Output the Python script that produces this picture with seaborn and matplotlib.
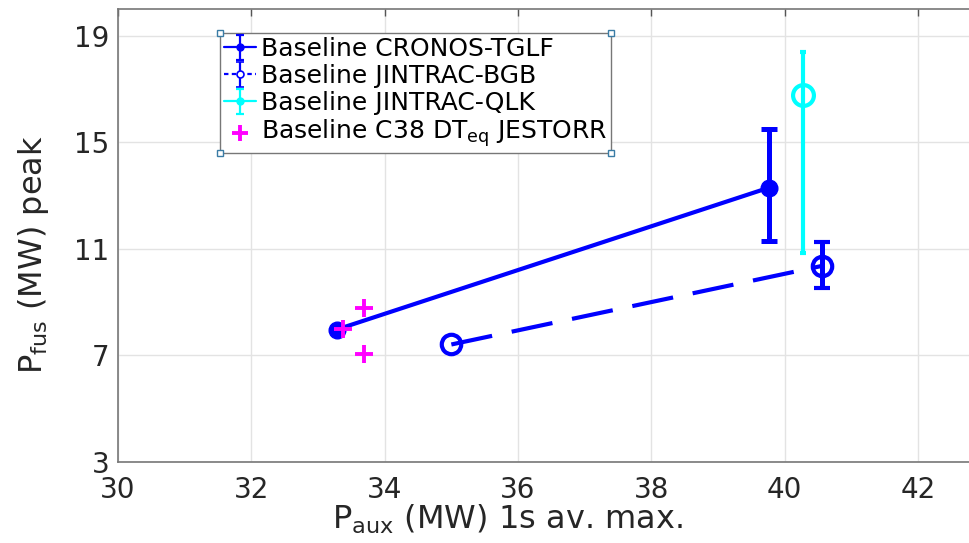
import numpy as np
import pandas as pd
import matplotlib
matplotlib.use("Agg")
import matplotlib.pyplot as plt
import seaborn as sns
from matplotlib.patches import Rectangle

# ---- data ----
cronos_x = [33.28, 39.77]
cronos_y = [7.97, 13.30]
cronos_lo = [np.nan, 11.30]
cronos_hi = [np.nan, 15.50]

bgb_x = [35.00, 40.56]
bgb_y = [7.41, 10.36]
bgb_lo = [np.nan, 9.54]
bgb_hi = [np.nan, 11.26]

qlk_x = [40.27]
qlk_y = [16.79]
qlk_lo = [10.85]
qlk_hi = [18.38]

jest_x = [33.69, 33.37, 33.69]
jest_y = [8.79, 7.98, 7.07]

labels = ["Baseline CRONOS-TGLF", "Baseline JINTRAC-BGB",
          "Baseline JINTRAC-QLK", "Baseline C38 DT$_{eq}$ JESTORR"]
xticks = [30, 32, 34, 36, 38, 40, 42]
yticks = [3, 7, 11, 15, 19]

sns.set_theme(style="whitegrid")
plt.rcParams["font.family"] = ["DejaVu Sans"]
plt.rcParams["mathtext.default"] = "regular"
txt = "#262626"
BLUE, CYAN, MAG = "#0000FF", "#00FFFF", "#FF00FF"

fig = plt.figure(figsize=(9.69, 5.43), dpi=100)
ax = fig.add_axes([118/969, 1-462/543, (984.7-118)/969, (462-9)/543])
ax.set_facecolor("white")

def yerr(y, lo, hi):
    y = np.asarray(y, float)
    return np.vstack([y - np.asarray(lo, float), np.asarray(hi, float) - y])

ax.errorbar(cronos_x, cronos_y, yerr=yerr(cronos_y, cronos_lo, cronos_hi),
            color=BLUE, lw=3, marker="o", ms=12, mfc=BLUE, mec=BLUE,
            elinewidth=3.6, capsize=6, capthick=3.6, zorder=3)
ax.errorbar(bgb_x, bgb_y, yerr=yerr(bgb_y, bgb_lo, bgb_hi),
            color=BLUE, lw=3, ls=(0, (10, 4.8)), marker="o", ms=14, mfc="none",
            mec=BLUE, mew=3, elinewidth=3.6, capsize=6, capthick=3.6, zorder=3)
ax.errorbar(qlk_x, qlk_y, yerr=yerr(qlk_y, qlk_lo, qlk_hi),
            color=CYAN, lw=3, marker="o", ms=15, mfc="none", mec=CYAN, mew=3,
            elinewidth=3, capsize=2.5, capthick=3, zorder=3)

df = pd.DataFrame({"x": jest_x, "y": jest_y})
sns.scatterplot(data=df, x="x", y="y", marker="+", s=180, color=MAG,
                linewidth=2.8, ax=ax, zorder=4, legend=False)

# legend proxies (small markers like the reference legend)
nan1 = [np.nan]
h1 = ax.errorbar(nan1, nan1, yerr=[[1], [1]], color=BLUE, lw=1.6, marker="o", ms=5,
                 mfc=BLUE, mec=BLUE, elinewidth=1.6, capsize=3, capthick=1.6)
h2 = ax.errorbar(nan1, nan1, yerr=[[1], [1]], color=BLUE, lw=1.6, ls=(0, (2, 1.5)),
                 marker="o", ms=5, mfc="white", mec=BLUE, mew=1.2,
                 elinewidth=1.6, capsize=3, capthick=1.6)
h3 = ax.errorbar(nan1, nan1, yerr=[[1], [1]], color=CYAN, lw=1.6, marker="o", ms=5,
                 mfc=CYAN, mec=CYAN, elinewidth=1.6, capsize=3, capthick=1.6)
h4 = ax.scatter(nan1, nan1, marker="+", s=140, color=MAG, linewidths=2.8)

ax.set_xlim(30, 43)
ax.set_ylim(3, 20)
ax.set_xticks(xticks)
ax.set_yticks(yticks)
ax.tick_params(direction="in", length=5, width=1, colors="#555555",
               labelcolor=txt, labelsize=20, top=True, right=True)
ax.tick_params(axis="x", pad=10)
ax.tick_params(axis="y", pad=6)
ax.grid(True, color="#e3e3e3", lw=1)
for s in ax.spines.values():
    s.set_color("#777777")
    s.set_linewidth(1.2)

ax.set_xlabel("P$_{aux}$ (MW) 1s av. max.", fontsize=23, color=txt)
ax.set_ylabel("P$_{fus}$ (MW) peak", fontsize=23, color=txt)
ax.xaxis.set_label_coords(0.449, -0.090)
ax.yaxis.set_label_coords(-0.077, 0.457)

leg = ax.legend([h1, h2, h3, h4], labels, loc="upper left",
                bbox_to_anchor=((220-118)/866.7, (462-33)/453),
                borderaxespad=0, fontsize=18, frameon=True, fancybox=False,
                edgecolor="#777777", framealpha=1, handlelength=1.3,
                handletextpad=0.2, borderpad=0.15, labelspacing=0.12)
leg.get_frame().set_linewidth(1.0)
for t in leg.get_texts():
    t.set_color("black")

fig.canvas.draw()
bb = leg.get_frame().get_window_extent()
for (px, py) in [(bb.x0, bb.y0), (bb.x1, bb.y0), (bb.x0, bb.y1), (bb.x1, bb.y1)]:
    fig.add_artist(Rectangle((px - 3, py - 3), 6, 6, transform=None,
                             facecolor="white", edgecolor="#3a7ca5", lw=1, zorder=10))

fig.savefig("out.png", dpi=100)
